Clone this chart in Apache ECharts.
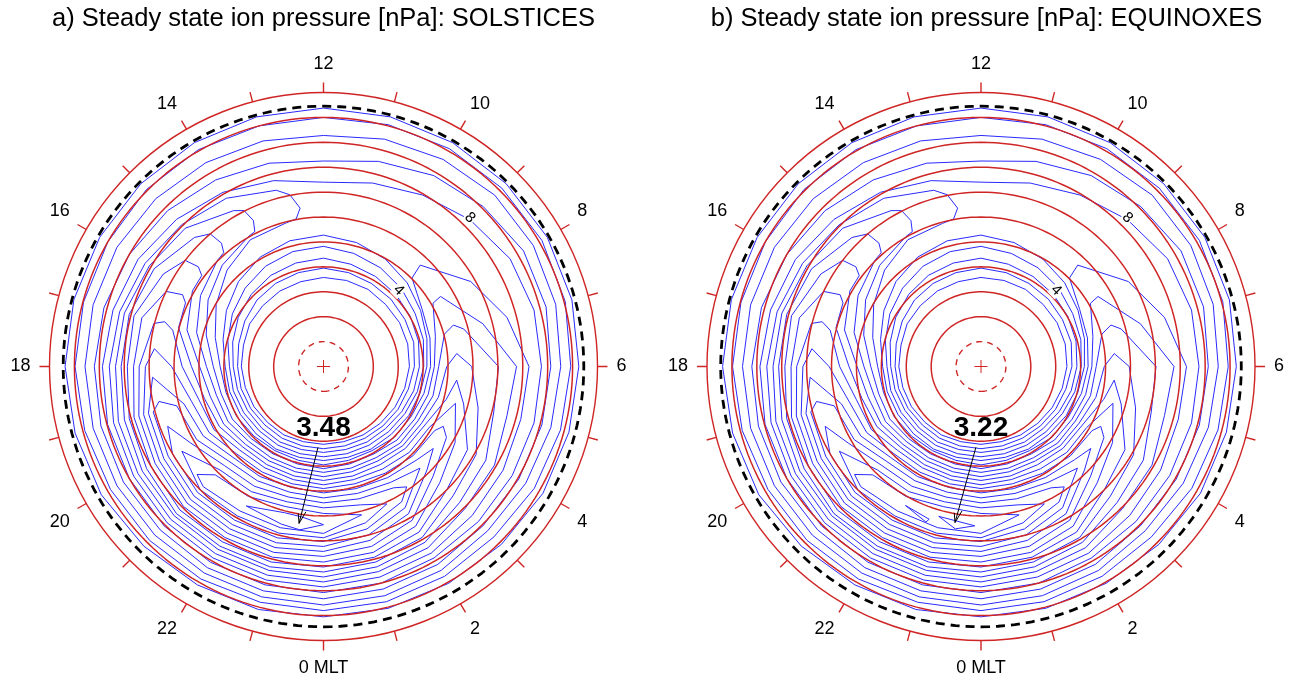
<!DOCTYPE html>
<html><head><meta charset="utf-8">
<script src="https://cdn.jsdelivr.net/npm/echarts@6/dist/echarts.min.js"></script>
<style>html,body{margin:0;padding:0;background:#fff}#chart{width:1302px;height:685px}</style>
</head><body><div id="chart"></div>
<script>
// ===== DATA (colatitude in degrees, MLT in hours) =====
const titles = ['a) Steady state ion pressure [nPa]: SOLSTICES', 'b) Steady state ion pressure [nPa]: EQUINOXES'];
const peakValues = ['3.48', '3.22'];
const ringColat = [8, 12, 16, 20, 24, 28, 32, 36, 40];
const dashedRingColat = 4;
const boundaryColat = 41.8;
const outerColat = 44;
const crossHalf = 1.05;

// closed contours around the pole, radius at MLT 0,1,...,23
const innerLoop1 = [12.5,12.5,12.7,12.9,13.2,13.5,13.8,14.0,14.1,14.1,14.3,14.3,14.3,14.1,14.0,13.8,13.7,13.3,13.2,13.0,12.9,12.7,12.7,12.5];
const innerLoop2 = [13.2,13.2,13.3,13.5,13.8,14.1,14.6,15.0,15.1,15.3,15.4,15.6,15.8,15.6,15.4,15.1,14.6,14.1,13.8,13.7,13.5,13.3,13.3,13.2];
const innerLoop3 = [13.8,13.8,14.0,14.1,14.5,15.0,15.4,15.8,16.1,16.4,16.7,17.0,17.4,17.2,16.9,16.4,15.8,15.1,14.5,14.3,14.1,14.0,14.0,13.8];
const innerLoop4 = [14.5,14.5,14.6,14.8,15.1,15.6,16.1,16.6,17.0,17.7,18.3,18.8,19.3,19.1,18.6,17.8,16.9,15.9,15.1,15.0,14.8,14.6,14.6,14.5];
const innerLoop5 = [15.1,15.1,15.3,15.4,15.8,16.1,16.6,17.2,18.0,19.0,19.9,20.6,21.1,20.9,20.3,19.3,18.0,16.7,15.8,15.6,15.4,15.3,15.3,15.1];
const outerLoop5 = [36.3,36.0,35.5,35.2,35.0,35.0,35.0,35.0,34.6,33.3,31.8,30.5,29.6,30.9,32.3,33.4,34.4,35.0,35.5,35.9,36.0,36.2,36.3,36.3];
const outerLoop4 = [37.3,37.0,36.7,36.2,36.2,36.3,36.5,37.0,37.1,36.3,35.4,34.1,33.0,33.8,34.6,35.4,36.0,36.5,36.8,37.0,37.1,37.1,37.3,37.3];
const outerLoop3 = [38.3,38.1,37.8,37.3,37.5,37.8,38.1,38.6,38.9,38.9,38.4,37.8,37.1,37.5,37.8,38.1,38.3,38.3,38.3,38.3,38.3,38.3,38.3,38.3];
const outerLoop2 = [39.2,39.1,38.9,38.7,39.1,39.4,39.7,40.2,40.5,40.5,40.4,40.2,40.0,40.0,40.2,40.2,40.0,39.9,39.9,39.7,39.5,39.5,39.4,39.2];
const outerLoop1 = [40.2,40.2,40.2,40.4,40.7,40.8,41.0,41.3,41.5,41.5,41.5,41.5,41.5,41.5,41.5,41.5,41.5,41.5,41.5,41.3,41.2,40.8,40.5,40.4];

// crescent contours around the ring current peak: [MLT, colatitude]
const banana1 = [[12.56,25.7],[12.74,28.1],[13,29.3],[14,31.2],[15,32.2],[16,33.1],[17,33.9],[18,34.4],[19,34.9],[20,35.2],[21,35.5],[22,35.5],[23,35.5],[0,35.4],[1,35.0],[2,34.6],[3,33.8],[4,33.3],[5,32.8],[6,33.0],[7,30.5],[8,27.3],[9.09,22.5],[9,20.1],[8,18.3],[7,17.7],[6,17.2],[5,16.7],[4,16.2],[3,16.1],[2,15.6],[1,15.6],[0,15.8],[23,15.6],[22,15.6],[21,15.8],[20,16.1],[19,16.2],[18,16.6],[17,18.0],[16,19.9],[15,21.9],[14,23.5],[13,23.8],[12.7,24.1],[12.56,25.7]];
const banana2 = [[13.71,26.0],[13.8,28.1],[14,28.9],[15,31.4],[16,32.3],[17,33.1],[18,33.4],[19,34.1],[20,34.4],[21,34.7],[22,34.7],[23,34.7],[0,34.6],[1,34.1],[2,33.6],[3,32.2],[4,31.7],[5,30.5],[6,31.0],[7,26.5],[8.06,21.9],[8,20.3],[7,18.6],[6,17.8],[5,17.4],[4,16.9],[3,16.7],[2,16.2],[1,16.2],[0,16.4],[23,16.2],[22,16.2],[21,16.4],[20,16.9],[19,17.0],[18,17.7],[17,19.5],[16,21.4],[15,23.0],[14,24.1],[13.8,24.3],[13.71,26.0]];
const banana3 = [[14.64,25.7],[14.7,28.0],[15,29.3],[16,31.4],[17,32.3],[18,32.5],[19,33.1],[20,33.6],[21,33.9],[22,33.9],[23,33.9],[0,33.8],[1,33.3],[2,32.6],[3,30.9],[4,30.1],[5,28.3],[6,28.1],[7,23.3],[7.18,21.9],[7,20.1],[6,18.5],[5,18.2],[4,17.5],[3,17.4],[2,16.9],[1,16.9],[0,17.0],[23,16.9],[22,16.9],[21,17.0],[20,17.7],[19,17.8],[18,18.8],[17,21.1],[16,22.8],[15,24.1],[14.75,24.3],[14.64,25.7]];
const banana4 = [[15.43,25.7],[15.5,28.0],[16,29.7],[17,31.5],[18,31.5],[19,32.3],[20,32.8],[21,33.4],[22,33.3],[23,33.3],[0,33.0],[1,32.5],[2,31.7],[3,29.4],[4,28.3],[5,25.7],[6,23.8],[6.37,21.5],[6,19.8],[5,19.1],[4,18.2],[3,18.0],[2,17.5],[1,17.5],[0,17.7],[23,17.5],[22,17.5],[21,17.7],[20,18.5],[19,18.8],[18,19.9],[17,22.7],[16,24.3],[15.55,24.4],[15.43,25.7]];
const banana5 = [[16.2,25.4],[16.3,28.0],[17,30.2],[18,30.5],[19,31.5],[20,32.0],[21,32.6],[22,32.5],[23,32.5],[0,32.2],[1,31.7],[2,30.7],[3,28.0],[4,26.7],[5,23.3],[5.61,21.5],[5,20.4],[4,18.8],[3,18.6],[2,18.2],[1,18.2],[0,18.3],[23,18.2],[22,18.2],[21,18.3],[20,19.3],[19,19.8],[18,21.2],[17,24.1],[16.35,24.4],[16.2,25.4]];
const banana6 = [[16.95,26.5],[17.05,28.1],[18,29.6],[19,30.7],[20,31.2],[21,31.8],[22,31.7],[23,31.7],[0,31.4],[1,30.9],[2,29.6],[3,26.4],[4,24.4],[4.96,22.0],[4,19.6],[3,19.5],[2,19.0],[1,18.8],[0,19.0],[23,18.8],[22,18.8],[21,19.0],[20,20.3],[19,20.7],[18,22.7],[17.1,24.9],[16.95,26.5]];
const banana7 = [[17.6,27.3],[18,28.6],[19,29.9],[20,30.4],[21,31.0],[22,30.9],[23,30.9],[0,30.5],[1,29.9],[2,28.5],[3,24.9],[4,22.8],[4.23,21.5],[4,20.6],[3,20.3],[2,19.8],[1,19.5],[0,19.6],[23,19.5],[22,19.6],[21,19.8],[20,21.2],[19,21.9],[18,24.4],[17.6,27.3]];
const banana8 = [[18.24,27.5],[19,29.1],[20,29.6],[21,30.2],[22,30.1],[23,30.1],[0,29.7],[1,28.9],[2,27.3],[3,23.5],[3.55,22.0],[3,21.2],[2,20.6],[1,20.3],[0,20.3],[23,20.1],[22,20.4],[21,20.6],[20,22.3],[19,23.2],[18.24,27.5]];
const banana9 = [[18.8,27.0],[19,28.3],[20,28.8],[21,29.4],[22,29.3],[23,29.3],[0,28.9],[1,28.0],[2,26.2],[2.9,22.5],[2,21.5],[1,21.1],[0,21.1],[23,20.9],[22,21.2],[21,21.5],[20,23.5],[19,24.4],[18.8,27.0]];
const banana10 = [[19.4,26.8],[20,28.0],[21,28.6],[22,28.5],[23,28.5],[0,28.1],[1,27.0],[2,25.1],[2.31,23.5],[2,22.5],[1,22.0],[0,21.9],[23,21.7],[22,22.2],[21,22.5],[20,24.6],[19.4,26.8]];
const banana11 = [[20.06,26.5],[21,28.0],[22,27.7],[23,27.7],[0,27.5],[1,26.0],[1.65,24.3],[1,23.0],[0,22.7],[23,22.5],[22,23.2],[21,23.5],[20.06,26.5]];
const banana12 = [[20.7,26.7],[21,27.3],[22,26.8],[23,26.8],[0,26.8],[0.96,24.6],[0,23.6],[23,23.3],[22,24.1],[21,24.6],[20.7,26.7]];
const peakContourA = [[22.07,25.6],[23,26.2],[23.45,26.5],[0,25.4],[23.45,24.4],[23,24.3],[22.07,25.6]];
const peakContourB1 = [[22.1,25.4],[22.75,25.9],[22.7,26.5],[22.1,25.4]];
const peakContourB2 = [[22.95,25.0],[23.85,25.6],[23.4,26.4],[22.95,25.0]];

// annotations: [MLT, colatitude]
const peakTextPos = [[0.0, 9.9], [0.0, 9.9]];
const peakArrowShaft = [[[23.74, 13.0], [23.41, 25.5]], [[23.76, 13.0], [23.37, 25.4]]];
const peakArrowHead = [[[23.35, 23.95], [23.41, 25.5], [23.54, 23.5]], [[23.31, 23.9], [23.37, 25.4], [23.50, 23.4]]];
const contourLabels = [{text:'8', pos:[9.03, 33.5]}, {text:'4', pos:[9.03, 17.2]}];

// ===== CHART =====
const RED = '#cf2525', BLUE = '#2a2aff';
const FONT = '"Liberation Sans", Arial, Helvetica, sans-serif';
const centers = [[323.5, 366.5], [981, 366.5]];
const titleX = [323.5, 986.5];

const series = [];
function line(pi, data, style, z) {
  series.push({type:'line', coordinateSystem:'polar', polarIndex:pi, data, symbol:'none', silent:true, smooth:false,
    lineStyle:style, z:z || 2, animation:false, clip:false});
}
function ring(pi, r, style, z) {
  const pts = [];
  for (let i = 0; i <= 192; i++) pts.push([r, i / 8]);
  line(pi, pts, style, z);
}
const flip = path => path.map(p => [p[1], p[0]]);
const blueStyle = {color: BLUE, width: 1};
const innerLoops = [innerLoop1, innerLoop2, innerLoop3, innerLoop4, innerLoop5];
const outerLoops = [outerLoop1, outerLoop2, outerLoop3, outerLoop4, outerLoop5];
const bananas = [banana1, banana2, banana3, banana4, banana5, banana6, banana7, banana8, banana9, banana10, banana11, banana12];
const peakContours = [[peakContourA], [peakContourB1, peakContourB2]];

for (let pi = 0; pi < 2; pi++) {
  innerLoops.concat(outerLoops).forEach(radii => {
    const pts = radii.map((r, h) => [r, h]);
    pts.push([radii[0], 24]);
    line(pi, pts, blueStyle, 2);
  });
  bananas.concat(peakContours[pi]).forEach(path => line(pi, flip(path), blueStyle, 2));
  ringColat.forEach(r => ring(pi, r, {color: RED, width: 1.5}, 4));
  ring(pi, dashedRingColat, {color: RED, width: 1.4, type: [6, 5]}, 4);
  ring(pi, boundaryColat, {color: '#000', width: 2.8, type: [9, 6]}, 5);
  line(pi, [[crossHalf, 0], [crossHalf, 12]], {color: RED, width: 1}, 4);
  line(pi, [[crossHalf, 6], [crossHalf, 18]], {color: RED, width: 1}, 4);
  line(pi, flip(peakArrowShaft[pi]), {color: '#000', width: 1}, 6);
  line(pi, flip(peakArrowHead[pi]), {color: '#000', width: 1}, 6);
  series.push({
    type:'scatter', coordinateSystem:'polar', polarIndex:pi, symbolSize:0, silent:true, animation:false, z:7,
    itemStyle:{opacity:1},
    data:[{value:[peakTextPos[pi][1], peakTextPos[pi][0]], label:{show:true, position:'inside', formatter: peakValues[pi],
      fontSize:28, fontWeight:'bold', color:'#000', opacity:1, textBorderWidth:0, fontFamily:FONT}}]
      .concat(contourLabels.map(c => ({value:[c.pos[1], c.pos[0]], label:{show:true, position:'inside', formatter:c.text,
        fontSize:15, color:'#000', opacity:1, textBorderWidth:0, rotate:-45, fontFamily:FONT, backgroundColor:'#fff', padding:[0,1]}})))
  });
}

const option = {
  animation: false,
  backgroundColor: '#fff',
  polar: centers.map(c => ({center: c, radius: 274})),
  angleAxis: [0, 1].map(i => ({
    polarIndex: i, type: 'value', min: 0, max: 24, interval: 1, startAngle: 270, clockwise: false,
    axisLine: {show: true, lineStyle: {color: RED, width: 1.4}},
    axisTick: {show: true, inside: false, length: 10, lineStyle: {color: RED, width: 1.4}},
    axisLabel: {show: true, margin: 19, color: '#000', fontSize: 18, fontFamily: FONT,
      formatter: v => (v % 2 !== 0 || v === 24) ? '' : (v === 0 ? '0 MLT' : String(v))},
    splitLine: {show: false}
  })),
  radiusAxis: [0, 1].map(i => ({
    polarIndex: i, type: 'value', min: 0, max: outerColat,
    axisLine: {show: false}, axisTick: {show: false}, axisLabel: {show: false}, splitLine: {show: false}
  })),
  graphic: titles.map((t, i) => ({type: 'text', x: titleX[i], y: 19, silent: true,
    style: {text: t, fontSize: 25.5, fontFamily: FONT, fill: '#000', align: 'center', verticalAlign: 'middle'}})),
  series
};
const chart = echarts.init(document.getElementById('chart'), null, {renderer: 'canvas'});
chart.setOption(option);
</script></body></html>
